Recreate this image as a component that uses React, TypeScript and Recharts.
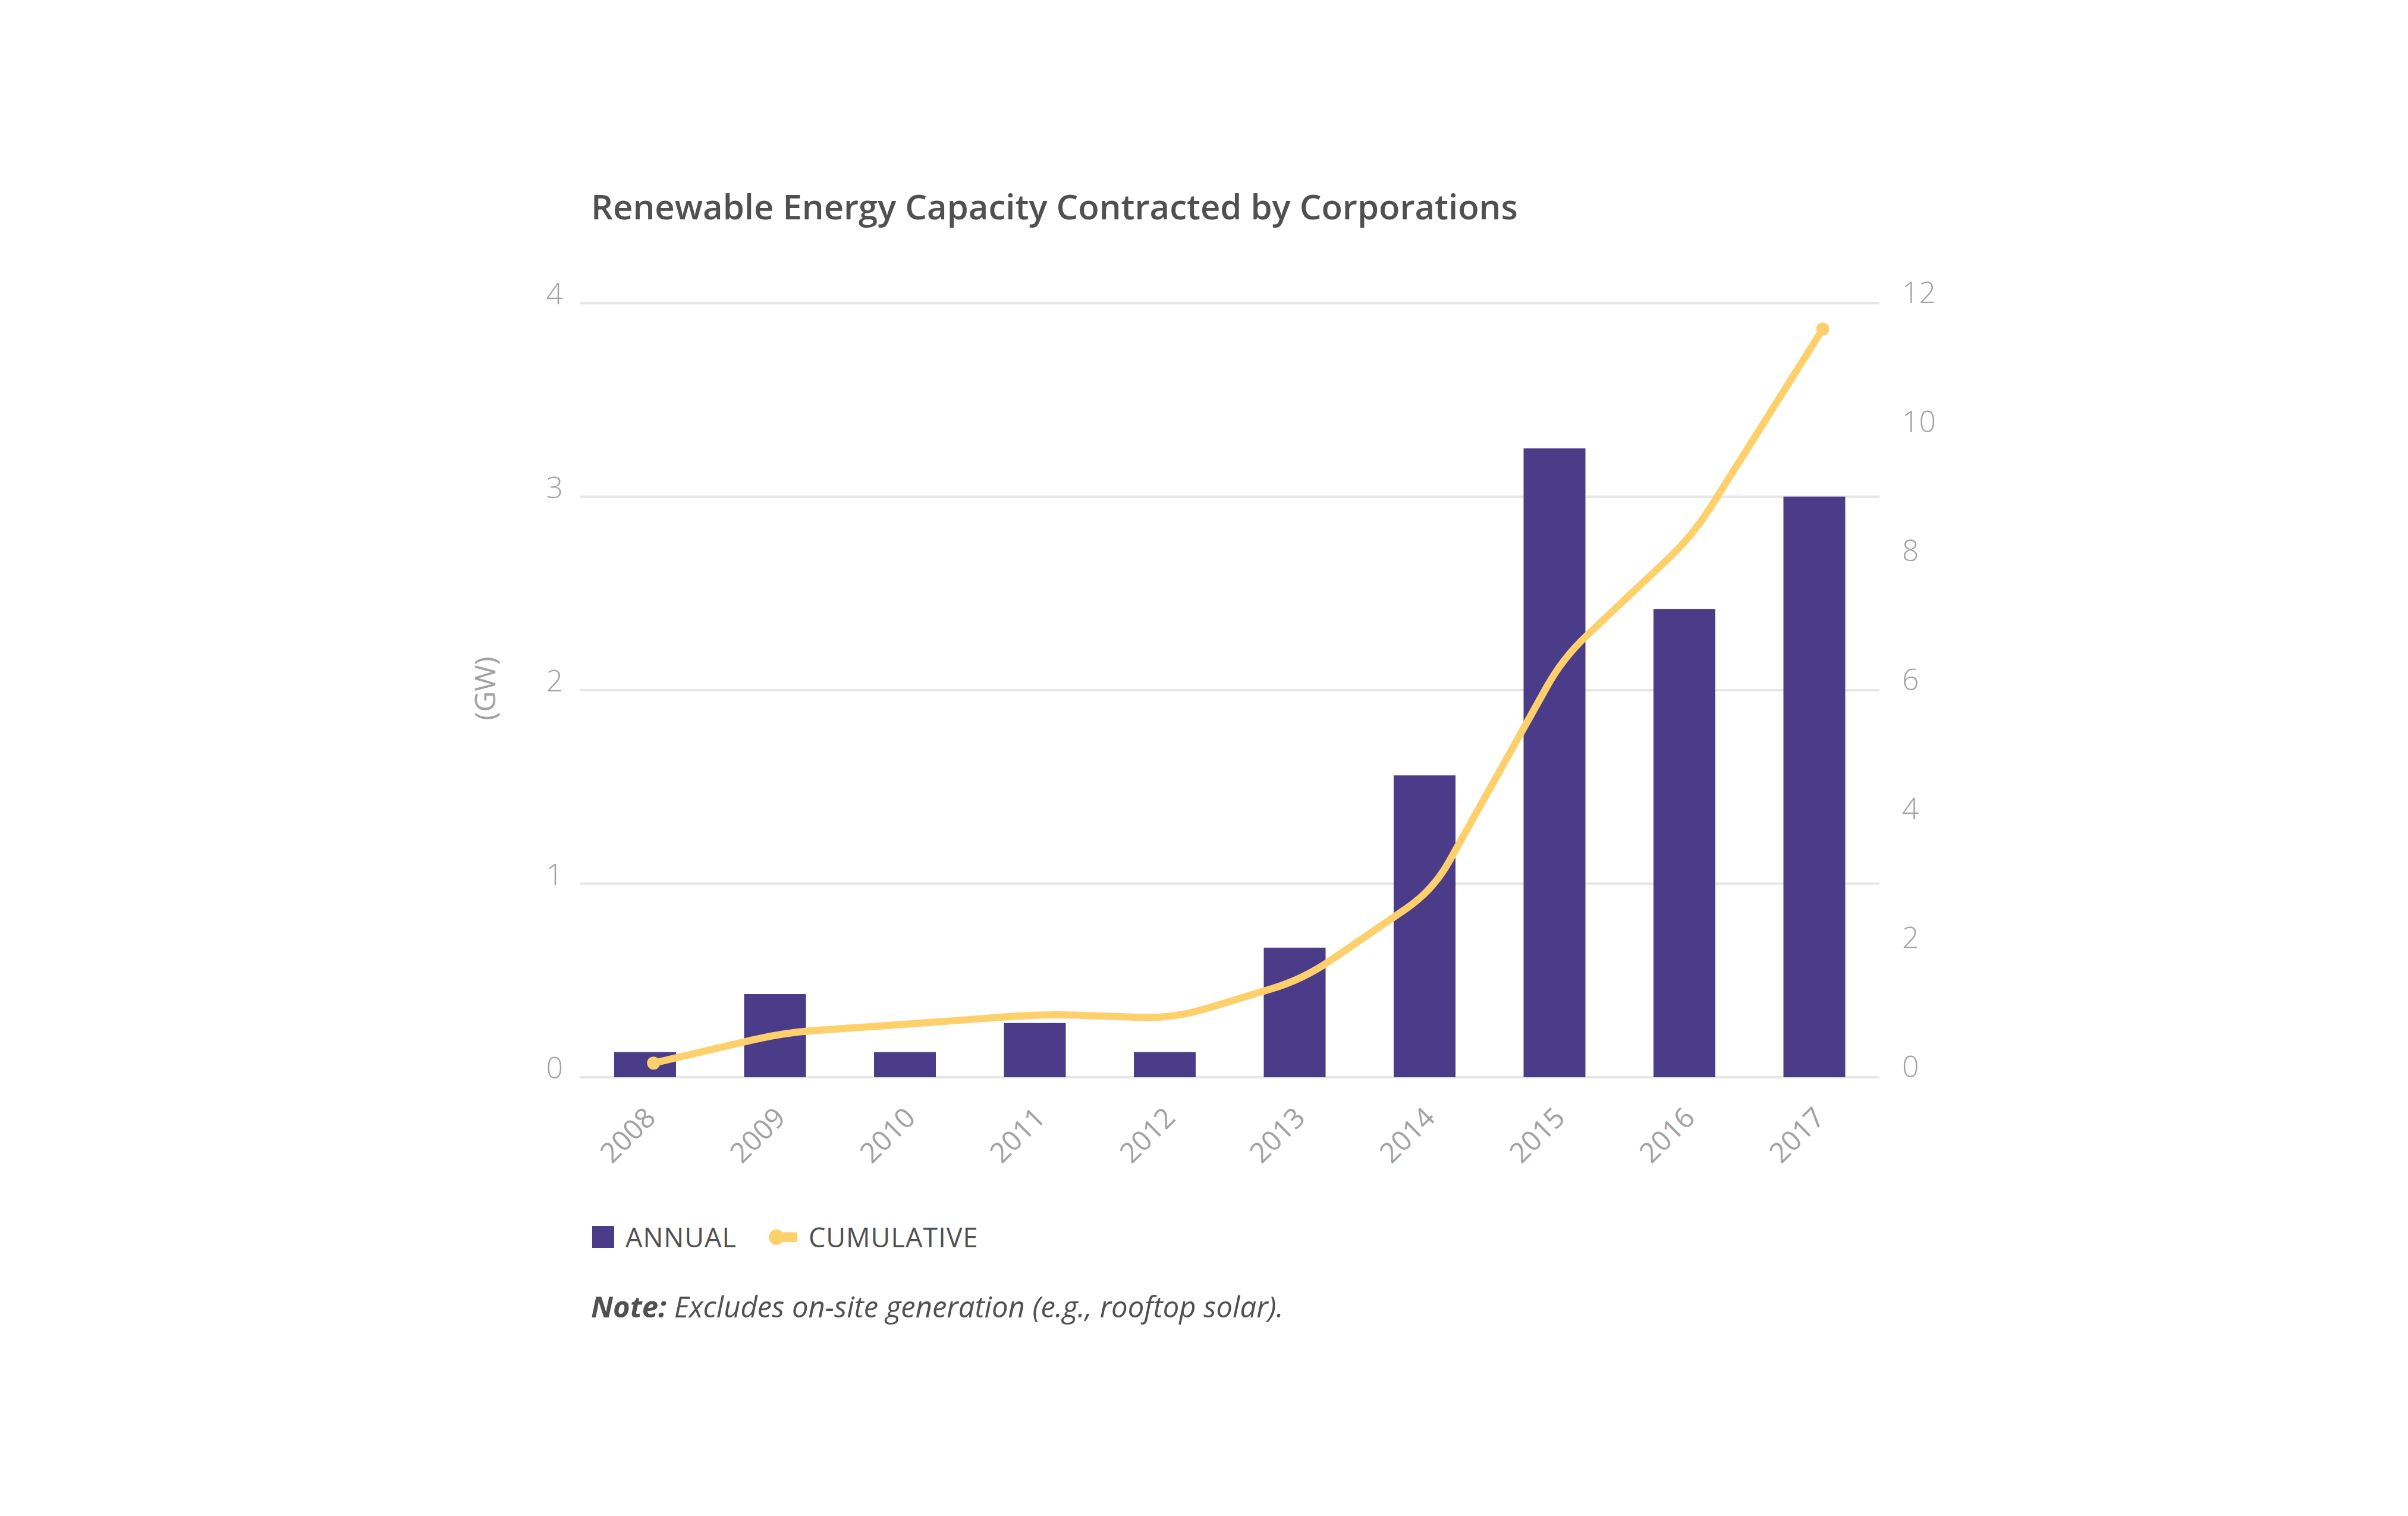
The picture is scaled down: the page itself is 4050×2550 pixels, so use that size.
import React from "react";
import {
	ComposedChart,
	Bar,
	Line,
	XAxis,
	YAxis,
	CartesianGrid,
} from "recharts";

const years = ["2008", "2009", "2010", "2011", "2012", "2013", "2014", "2015", "2016", "2017"];
const annual = [0.13, 0.43, 0.13, 0.28, 0.13, 0.67, 1.56, 3.25, 2.42, 3.0];
const cumulative = [0.22, 0.69, 0.83, 0.98, 0.91, 1.52, 2.9, 6.5, 8.4, 11.6];
const leftTicks = [0, 1, 2, 3, 4];
const rightTicks = [0, 2, 4, 6, 8, 10, 12];

const BAR = "#4a3c89";
const LINE = "#fed06b";
const TICK = "#a2a2a2";
const TEXT = "#505050";
const FONT = "'Open Sans', sans-serif";

const data = years.map((year, i) => ({
	year,
	annual: annual[i],
	cumulative: cumulative[i],
}));

// polyline with softly rounded corners, used as a curve factory for <Line>
function roundedCurve(context: any) {
	let pts: number[][] = [];
	const R = 55;
	return {
		areaStart() {},
		areaEnd() {},
		lineStart() {
			pts = [];
		},
		point(x: number, y: number) {
			pts.push([+x, +y]);
		},
		lineEnd() {
			if (!pts.length) return;
			context.moveTo(pts[0][0], pts[0][1]);
			for (let i = 1; i < pts.length - 1; i++) {
				const [px, py] = pts[i - 1];
				const [cx, cy] = pts[i];
				const [nx, ny] = pts[i + 1];
				const l1 = Math.hypot(cx - px, cy - py);
				const l2 = Math.hypot(nx - cx, ny - cy);
				const r = Math.min(R, l1 / 2, l2 / 2);
				const ax = cx - ((cx - px) / l1) * r;
				const ay = cy - ((cy - py) / l1) * r;
				const bx = cx + ((nx - cx) / l2) * r;
				const by = cy + ((ny - cy) / l2) * r;
				context.lineTo(ax, ay);
				context.quadraticCurveTo(cx, cy, bx, by);
			}
			const last = pts[pts.length - 1];
			context.lineTo(last[0], last[1]);
		},
	};
}

function LeftTick(props: any) {
	const { x, y, payload } = props;
	return (
		<text x={x} y={y + 2} textAnchor="end" fill={TICK} fontSize={50} fontWeight={300} fontFamily={FONT}>
			{payload.value}
		</text>
	);
}

function RightTick(props: any) {
	const { x, y, payload } = props;
	return (
		<text x={x} y={y} textAnchor="start" fill={TICK} fontSize={50} fontWeight={300} fontFamily={FONT}>
			{payload.value}
		</text>
	);
}

function YearTick(props: any) {
	const { x, y, payload } = props;
	const ax = x + 20;
	return (
		<text
			x={ax}
			y={y}
			textAnchor="end"
			transform={`rotate(-45, ${ax}, ${y})`}
			fill={TICK}
			fontSize={47}
			fontWeight={400}
			fontFamily={FONT}
		>
			{payload.value}
		</text>
	);
}

function EndDot(props: any) {
	const { cx, cy, index } = props;
	if (index === 0 || index === years.length - 1) {
		return <circle key={`dot-${index}`} cx={cx} cy={cy} r={11} fill={LINE} />;
	}
	return <g key={`dot-${index}`} />;
}

export default function App() {
	return (
		<div
			style={{
				position: "absolute",
				left: 0,
				top: 0,
				width: 4050,
				height: 2550,
				background: "#fff",
				fontFamily: FONT,
			}}
		>
			<div
				style={{
					position: "absolute",
					left: 994,
					top: 318,
					fontSize: 58,
					lineHeight: 1,
					fontWeight: 600,
					color: TEXT,
					whiteSpace: "nowrap",
				}}
			>
				Renewable Energy Capacity Contracted by Corporations
			</div>

			<div
				style={{
					position: "absolute",
					left: 815,
					top: 1158,
					transform: "translate(-50%, -50%) rotate(-90deg)",
					fontSize: 48,
					lineHeight: 1,
					color: TICK,
					whiteSpace: "nowrap",
				}}
			>
				(GW)
			</div>

			<div style={{ position: "absolute", left: 0, top: 0 }}>
				<ComposedChart
					width={4050}
					height={2550}
					data={data}
					margin={{ top: 510, right: 0, bottom: 538, left: 0 }}
					barCategoryGap={0}
				>
					<CartesianGrid yAxisId="left" vertical={false} stroke="#e6e6e6" strokeWidth={4} />
					<XAxis
						dataKey="year"
						axisLine={false}
						tickLine={false}
						tickSize={0}
						tickMargin={71}
						height={200}
						interval={0}
						tick={<YearTick />}
					/>
					{/* the cumulative line sits a little right of the bar centres */}
					<XAxis xAxisId="line" dataKey="year" hide padding={{ left: 14, right: -14 }} />
					<YAxis
						yAxisId="left"
						orientation="left"
						width={976}
						domain={[0, 4]}
						ticks={leftTicks}
						axisLine={false}
						tickLine={false}
						tickSize={0}
						tickMargin={29}
						tick={<LeftTick />}
					/>
					<YAxis
						yAxisId="right"
						orientation="right"
						width={889}
						domain={[0, 12]}
						ticks={rightTicks}
						axisLine={false}
						tickLine={false}
						tickSize={0}
						tickMargin={38}
						tick={<RightTick />}
					/>
					<Bar
						yAxisId="left"
						dataKey="annual"
						fill={BAR}
						barSize={104}
						isAnimationActive={false}
					/>
					<Line
						xAxisId="line"
						yAxisId="right"
						type={roundedCurve as any}
						dataKey="cumulative"
						stroke={LINE}
						strokeWidth={12}
						strokeLinejoin="round"
						strokeLinecap="round"
						dot={EndDot}
						activeDot={false}
						isAnimationActive={false}
					/>
				</ComposedChart>
			</div>

			<div
				style={{
					position: "absolute",
					left: 996,
					top: 2058,
					display: "flex",
					alignItems: "center",
					fontSize: 45,
					lineHeight: 1,
					color: TEXT,
					letterSpacing: 1,
				}}
			>
				<span style={{ display: "inline-block", width: 37, height: 37, background: BAR, marginRight: 19 }} />
				<span>ANNUAL</span>
				<svg width={48} height={30} style={{ marginLeft: 54, marginRight: 19 }}>
					<rect x={12} y={7} width={36} height={16} fill={LINE} />
					<circle cx={13} cy={15} r={13} fill={LINE} />
				</svg>
				<span>CUMULATIVE</span>
			</div>

			<div
				style={{
					position: "absolute",
					left: 994,
					top: 2173,
					fontSize: 49,
					lineHeight: 1,
					fontStyle: "italic",
					color: TEXT,
					whiteSpace: "nowrap",
				}}
			>
				<span style={{ fontWeight: 700 }}>Note:</span> Excludes on-site generation (e.g., rooftop solar).
			</div>
		</div>
	);
}
